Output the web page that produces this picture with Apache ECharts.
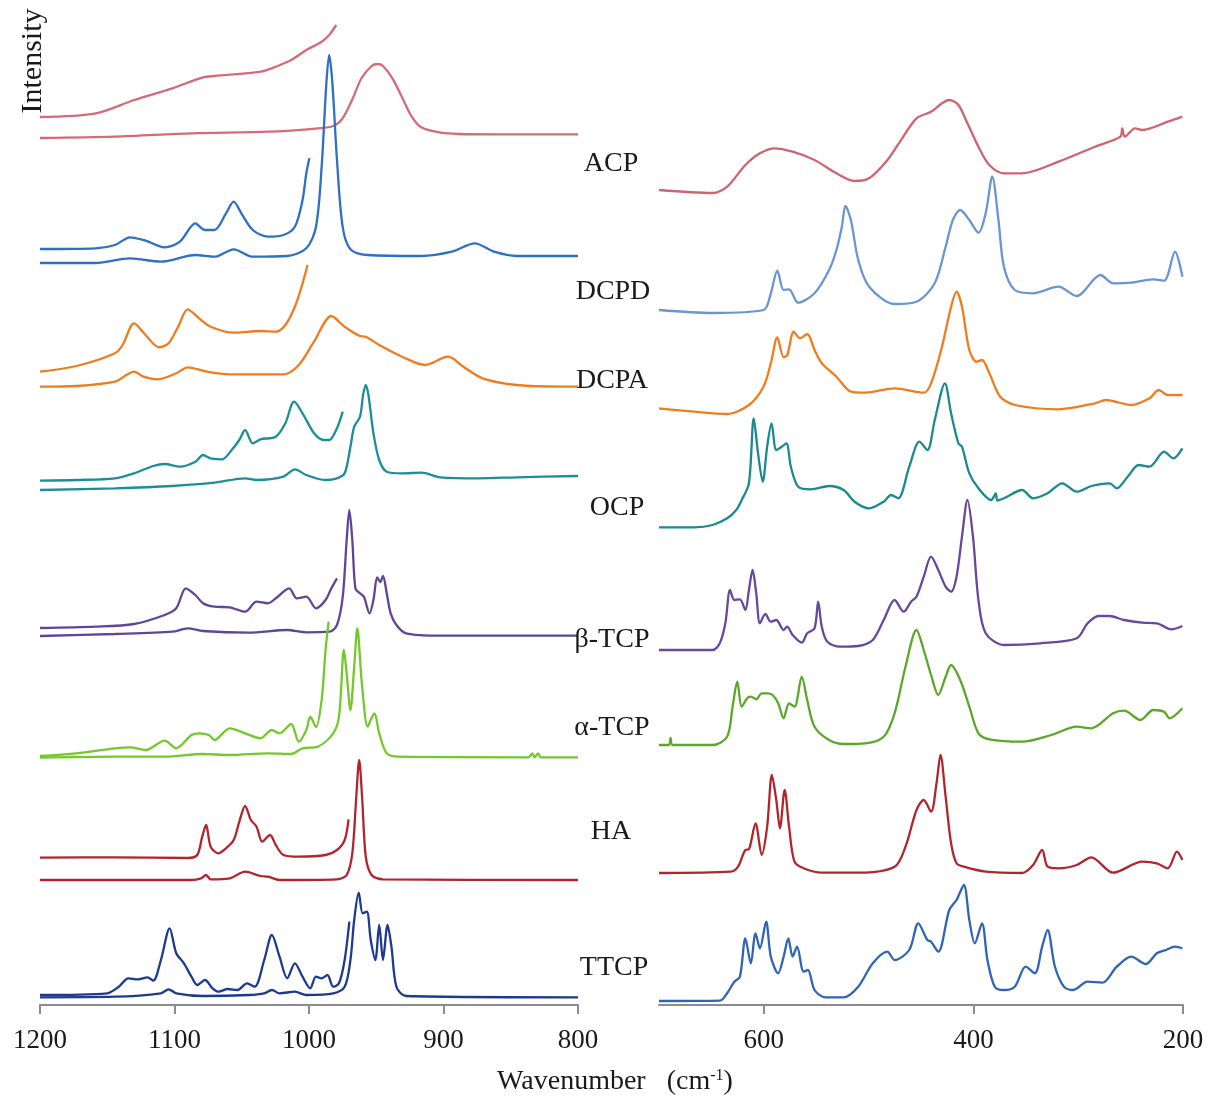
<!DOCTYPE html>
<html>
<head>
<meta charset="utf-8">
<script src="https://cdn.jsdelivr.net/npm/echarts@6/dist/echarts.min.js"></script>
<style>
html,body{margin:0;padding:0;background:#fff;}
#chart{width:1211px;height:1106px;}
</style>
</head>
<body>
<div id="chart"></div>
<script>
// ---------- tick labels / sample names ----------
const SAMPLE_NAMES = ['ACP','DCPD','DCPA','OCP','β-TCP','α-TCP','HA','TTCP'];
const LEFT_TICKS = [1200,1100,1000,900,800];
const RIGHT_TICKS = [600,400,200];

// ---------- spectra: [wavenumber (cm-1), relative intensity above own baseline] ----------
// Left panel (1200-800), main traces
const ACP_L_MAIN = [[1200,0],[1144,1.3],[1087,4.7],[1030,6.3],[993,9.7],[982,12],[975,19.7],[968,38],[961,59.7],[953.5,72],[949,74],[945,72],[938,59.7],[931,41.3],[923.6,21.3],[916.5,10.7],[902,5.3],[888,4],[860,3.7],[800,3.7]];
const DCPD_L_MAIN = [[1200,0],[1158.5,0],[1133,4.7],[1110,1.3],[1084.5,8],[1070.3,6.3],[1056,13.7],[1041.8,6.3],[1016.2,7],[1002,14.7],[994.8,36.3],[990.6,96.3],[987.1,179.7],[985,208],[982.6,179.7],[979.2,103],[975,36.3],[969.2,13.7],[956.4,8],[916.5,7],[893.8,11.3],[876.7,19.7],[862.4,11.3],[845.4,7],[800,7]];
const DCPA_L_MAIN = [[1200,0.3],[1172.8,1],[1144.3,5.3],[1135.7,12],[1130.1,15.3],[1122.9,10.3],[1113,7.7],[1098.7,13.7],[1090.2,19.7],[1076,15.3],[1058.9,12.7],[1019,12.7],[1007.6,22],[996.3,45.3],[983.4,71],[973.5,60.3],[962.1,51],[957.8,50.3],[947.8,42],[930.8,30.3],[913.7,22],[896.6,30.3],[885.2,20.3],[871,8.7],[845.4,2],[811.2,0.3],[800,0.3]];
const OCP_L_MAIN = [[1200,0],[1144.3,1.7],[1101.6,4],[1070.3,7.3],[1047.5,11.7],[1039,10],[1019,13.3],[1010.5,20.7],[1002,15],[987.7,10],[979.2,11.7],[973.5,16.7],[969.2,43.3],[966.4,63.3],[962.1,73.3],[959.8,95],[957.8,105],[955.8,95],[952.1,56.7],[947.8,30],[942.2,18.3],[930.8,16.7],[916.5,17.3],[902.3,12.7],[873.8,11.7],[845.4,12.7],[800,14]];
const BTCP_L_MAIN = [[1200,0],[1144.3,2],[1101.6,4.3],[1090.2,7.7],[1078.8,5],[1044.7,3.3],[1016.2,6],[1002,3.7],[984.9,4.3],[979.2,11],[974.9,39.3],[972,96],[970,126],[967.8,96],[965.5,47.7],[962.1,42.7],[959.2,39.3],[955,22.7],[952.1,36],[949.3,58.7],[947,54],[945,60],[942.2,42.7],[939.3,22.7],[935,11],[927.9,2.7],[902.3,0.3],[800,0.3]];
const ATCP_L_MAIN = [[1200,0.3],[1144.3,1.3],[1107.3,1.3],[1078.8,4],[1058.9,3],[1030.4,4.7],[1013.3,4],[1004.8,9.7],[993.4,11.3],[982,24.7],[977.7,41.3],[974,108],[972,84.7],[969.2,48],[966.4,91.3],[964.1,129.7],[960.7,74.7],[956.4,31.3],[953.5,40],[951.3,44.7],[947.8,24.7],[942.2,4.7],[933.6,1.3],[836.8,0.7],[834,4.7],[832.3,0.7],[829.7,4.7],[827.7,0.7],[800,0.7]];
const HA_L_MAIN = [[1200,0],[1087.4,0],[1080.2,1.7],[1076.5,5],[1073.1,0.7],[1058.9,1.7],[1047.5,8.3],[1036.1,4],[1030.4,3.3],[1021.9,0],[979.2,0.7],[972,5],[967.8,26.7],[965,80],[962.7,120],[960.4,80],[957.8,23.3],[953.5,5],[945,0.7],[800,0]];
const TTCP_L_MAIN = [[1200,0.2],[1144.3,0.8],[1110.1,4.2],[1104.4,8.2],[1098.7,4.2],[1078.8,1.5],[1044.7,2.5],[1033.3,4.2],[1027.6,7.5],[1021.9,4.2],[1010.5,5.8],[1002,2.5],[982,4.2],[973.5,10.8],[969.2,37.5],[966.4,77.5],[963,104.8],[960.1,84.2],[957,85.8],[954.1,57.5],[950.7,37.5],[947.8,72.5],[945,37.5],[941.6,72.5],[938.7,50.8],[935,10.8],[927.9,1.5],[800,0.2]];

// Left panel, magnified insets (end near the main band)
const ACP_L_ZOOM = [[1200,0],[1158.5,3.7],[1130,17],[1101.6,28.7],[1078.8,39.7],[1070.3,41],[1036,45.3],[1024.7,50.3],[1013.3,57],[1002,67],[990.6,75.3],[985,82],[979.7,92]];
const DCPD_L_ZOOM = [[1200,0],[1158.5,0.7],[1144.3,4],[1133,11.7],[1121.5,8.3],[1107.3,1.7],[1096,7.3],[1084.5,25.7],[1077.4,19],[1070.3,19],[1061.7,35.7],[1056,47.3],[1050.3,35.7],[1041.8,19],[1030.4,12.3],[1019,14],[1010.5,22.3],[1004.8,49],[1002,75.7],[999.7,90.7]];
const DCPA_L_ZOOM = [[1200,0.3],[1172.8,6],[1144.3,18.7],[1138.6,27],[1130.1,48.7],[1121.5,37],[1111.6,24.7],[1104.4,28.7],[1097.3,45.3],[1090.2,62.7],[1081.7,53.7],[1073.1,45.3],[1056,39.3],[1036.1,41],[1024.7,40.3],[1017.6,47],[1010.5,65.3],[1004.8,88.7],[1001.1,107]];
const OCP_L_ZOOM = [[1200,0.3],[1172.8,1],[1144.3,2.7],[1130.1,7.7],[1115.8,15],[1107.3,17],[1095.9,14.3],[1084.5,19.3],[1078.8,26],[1073.1,22.7],[1064.6,21.7],[1057.5,31],[1051.8,41],[1047.5,51],[1041.8,37.7],[1036.1,41.7],[1024.7,44.3],[1017.6,57.7],[1011.1,79.3],[1004.8,67.7],[996.2,47.7],[989.1,41],[984.9,41],[979.2,52.7],[974.9,69.3]];
const BTCP_L_ZOOM = [[1200,0],[1158.5,1.3],[1130.1,4],[1107.3,13],[1098.7,19.7],[1091.6,39.7],[1084.5,33],[1078.8,24.7],[1070.3,21.3],[1058.9,20.7],[1047.5,16.3],[1039,26.3],[1030.4,24.7],[1024.7,29.7],[1014.7,39.7],[1009.1,29.7],[1002,31.3],[994.8,19.7],[987.7,28],[983.4,39.7],[979.2,49.7]];
const ATCP_L_ZOOM = [[1200,0],[1172.8,2.7],[1144.3,7.7],[1132.9,8.7],[1121.5,6],[1107.3,15.3],[1098.7,7.7],[1087.4,21],[1081.7,22.7],[1074.5,21],[1070.3,16],[1058.9,27.7],[1047.5,22.7],[1036.1,17.7],[1027.6,26],[1021.9,22.7],[1013.3,32],[1007.6,14.3],[1002,26],[999.1,39.3],[994.8,29],[990.6,56],[987.7,106],[985.4,134.3]];
const HA_L_ZOOM = [[1200,0.3],[1144.3,0.7],[1090.2,0],[1083.1,3],[1079.4,21.3],[1076.5,33],[1073.1,11.3],[1067.4,4.7],[1061.7,9.7],[1056,18],[1051.8,36.3],[1047.5,52],[1043.2,38],[1039,31.3],[1034.7,16.3],[1029,23],[1024.7,13],[1019,3],[1007.6,1.3],[987.7,3],[979.2,8],[973.5,18],[970.6,38.7]];
const TTCP_L_ZOOM = [[1200,0],[1150,1.7],[1141.4,8.3],[1134.3,16.7],[1127.2,15.7],[1120.1,17.7],[1115.8,14.3],[1110.1,35],[1103.6,66.7],[1098.7,41.7],[1093,31.7],[1087.4,18.3],[1083.1,10],[1077.4,15],[1071.7,6.7],[1067.4,3.3],[1060.3,6],[1053.2,5],[1046.1,11.7],[1040.4,8.3],[1033.3,35],[1027.6,60],[1021.9,38.3],[1016.2,16.7],[1010.5,31.7],[1004.8,18.3],[999.1,6.7],[994.8,18.3],[990.6,16.7],[986.3,20],[982,8.3],[977.7,11.7],[973.5,35],[970,73.3]];

// Right panel (700-200)
const ACP_R = [[700,3],[649,0],[635,6.3],[617.6,28],[603.7,39.7],[589.8,44.7],[572.5,41.3],[551.6,33],[530.7,19.7],[513.4,12],[499.5,14.7],[482,33],[468,54.7],[454.3,74.7],[440.4,81.3],[430,89.7],[423,93],[414.3,88],[405.7,69.7],[395.2,46.3],[384.8,28],[370.9,19.7],[353.5,19.7],[318.8,31.3],[284,46.3],[259.7,56.3],[258,64.7],[255.5,56.3],[245.8,64.7],[238.9,63],[214.5,71.3],[200.6,76.3]];
const DCPD_R = [[700,3],[648.9,0],[600.2,3],[593.3,19.7],[587.1,42.3],[581.1,23],[575.9,23.7],[567.3,10.3],[551.6,19.7],[537.7,43],[530.7,63],[525.5,86.3],[522.1,107],[516.9,93],[509.9,53],[499.5,26.3],[475.2,9],[454.3,11.3],[436.9,29.7],[426.5,66.3],[419.6,93],[412.6,103],[403.9,93],[395.2,80.3],[388.3,99.7],[382,136.3],[376.1,93],[370.9,46.3],[360.5,23],[343.1,19.7],[318.8,26.3],[301.4,17],[278.8,38],[266.7,29.7],[249.3,30.3],[228.4,33.7],[218,32.3],[207.6,61.3],[200.6,36.3]];
const DCPA_R = [[700,5.7],[666.3,2.3],[635,0],[614.2,9],[600.3,27.3],[593.3,50.7],[587.1,76.7],[581.1,56.7],[577.6,59],[571.4,82.3],[565.5,75.7],[558.5,80],[551.6,64],[544.7,50.7],[530.7,37.3],[516.8,22.3],[503,21.3],[475.2,25.7],[447.4,21.3],[440.4,30.7],[430,67.3],[421.3,107.3],[416.1,122.3],[410.9,107.3],[403.9,64],[397,52.3],[391.8,54],[384.8,40.7],[374.4,17.3],[360.5,9],[318.8,4.7],[284,10.7],[273.6,14],[249.3,9],[231.9,15.7],[223.2,24],[214.5,19],[200.6,19]];
const OCP_R = [[700,0.2],[666.3,0.2],[648.9,2.5],[635,9.2],[626.3,17.5],[621.1,27.5],[614.2,44.2],[609.6,109.2],[605.5,74.2],[601,45.8],[596.8,80.8],[592.6,104.2],[588.1,77.5],[582.9,80.8],[578.4,84.2],[574.2,60.8],[567.2,40.8],[555.1,38.2],[537.7,41.5],[523.8,37.5],[513.4,25.8],[499.5,19.2],[485.6,25.8],[478.6,32.5],[471.7,29.2],[461.2,60.8],[451.5,85.8],[443.9,77.5],[436.9,107.5],[427.2,144.2],[421.3,114.2],[414.3,84.2],[410.9,80.8],[403.9,54.2],[395.2,39.2],[383.1,27.5],[378.6,34],[377.2,27],[370.9,29.2],[353.5,37.5],[343.1,29.2],[329.2,34.2],[315.3,44.2],[301.4,35.8],[287.5,41.5],[270.1,44.2],[263.2,39.2],[252.8,50.8],[242.3,62.5],[231.9,60.8],[218,75.8],[209.3,69.2],[200.6,79.2]];
const BTCP_R = [[700,0],[648.9,0],[642,6.7],[636.7,26.7],[632.2,60],[628.1,50],[622.8,50.7],[617.6,40],[614.2,60],[610.7,80],[607.2,56.7],[603.7,26.7],[598.5,36],[593.3,28.3],[588.1,30],[581.1,20],[577.7,23.3],[572.5,15],[563.8,7.3],[558.6,16.7],[551.6,21.7],[548.1,48.3],[544.7,23.3],[539.4,8.3],[527.3,3.3],[509.9,4],[496,10],[485.6,30],[475.2,50],[466.5,38.3],[459.5,48.3],[454.3,53.3],[447.4,73.3],[440.4,93.3],[433.5,80],[426.5,63.3],[421.3,58.3],[416.1,73.3],[410.9,113.3],[405.7,150],[400.4,113.3],[395.2,50],[388.3,16.7],[370.9,5],[336.2,6.7],[301.4,11.7],[291,26.7],[280.6,34],[270.1,34],[256.2,30],[238.9,27.3],[225,26.7],[211.1,20.7],[200.6,24]];
const ATCP_R = [[700,0],[690.6,0],[688.9,7],[687.1,0],[648.9,0],[635,8.3],[629.8,38.3],[625.3,63.3],[621.1,38.3],[615.9,46.7],[612.4,48.3],[607.2,45.7],[602,51.7],[596.8,51.7],[591.6,50],[586.3,41.7],[581.1,26.7],[575.9,41.7],[570.7,38.3],[563.8,68.3],[558.6,45],[551.6,18.3],[537.7,5],[523.8,1],[503,1.7],[485.6,8.3],[475.2,31.7],[464.8,78.3],[454.3,115],[447.4,95],[440.4,70],[433.5,50],[426.5,68.3],[421.3,80],[412.6,65],[403.9,38.3],[395.2,11.7],[384.8,5.7],[353.5,3.3],[325.7,10],[301.4,18.3],[287.5,16.7],[266.7,31.7],[256.2,34.3],[240.6,25],[228.4,35],[218,33.3],[212.8,26.7],[200.6,36.7]];
const HA_R = [[700,0],[631.5,1.3],[624.6,6.3],[617.6,23],[614.2,23.7],[607.9,49.7],[602,18],[596.8,46.3],[592.3,98],[588.1,73],[584.6,44.7],[580.1,83],[575.9,46.3],[570.7,11.3],[562,4.7],[544.7,0.3],[509.9,0.3],[475.2,6.3],[464.8,26.3],[454.3,63],[447.4,73],[440.4,61.3],[435.2,89.7],[431.4,118],[426.5,76.3],[421.3,29.7],[416.1,9.7],[409.1,6.3],[388.3,1.3],[353.5,0],[343.1,8],[334.4,23],[329.2,6.3],[318.8,4.7],[301.4,8],[287.5,15.7],[266.7,0.3],[238.9,11.3],[225,9.7],[214.5,4.7],[205.8,21.3],[200.6,13]];
const TTCP_R = [[700,0],[641.9,0.3],[635,7.7],[628.1,19.3],[622.8,24.3],[617.6,62.7],[612.4,37.7],[607.9,67.7],[603.7,52.7],[597.8,79.3],[593.3,44.3],[586.3,27.7],[581.1,44.3],[576.6,62.7],[572.5,44.3],[568.3,54.3],[562,29.3],[557.9,31],[551.6,11],[541.2,3.7],[523.8,3.7],[509.9,14.3],[496,37.7],[482.1,49.3],[475.2,41],[461.2,51],[452.6,77.7],[443.9,61],[440.4,59.3],[433.5,49.3],[423,91],[416.1,101],[409.1,116],[403.9,81],[398.7,57.7],[391.8,77.7],[386.6,41],[379.6,14.3],[370.9,11],[360.5,14.3],[350.1,34.3],[341.4,27.7],[334.4,54.3],[329.2,71],[322.2,34.3],[313.6,14.3],[304.9,11],[291,19.3],[277.1,18.3],[263.2,34.3],[249.3,44.3],[235.4,37],[225,47.7],[216.3,51],[207.6,54.3],[200.6,52.7]];

// vertical stacking offsets of each trace (same order as SAMPLE_NAMES)
const OFFSET_L_MAIN = [867,742,618,515,369,247,125,7.5];
const OFFSET_L_ZOOM = [888,756,633,524,377,249,147,10];
const OFFSET_R = [812,692,591,477.5,355,260,132,4];

// ---------- styles ----------
const COLOR_L_MAIN = ['#d66b78','#2f6fc4','#f07c20','#1c8e97','#5f4597','#74c82c','#b0262f','#1e3a8e'];
const COLOR_L_ZOOM = COLOR_L_MAIN;
const COLOR_R = ['#cf6470','#6b94d4','#f07c20','#1a8a90','#67489a','#5ea62a','#b0262f','#2f64b6'];
const SERIF = "'Liberation Serif','Times New Roman',serif";

const L_MAIN = [ACP_L_MAIN,DCPD_L_MAIN,DCPA_L_MAIN,OCP_L_MAIN,BTCP_L_MAIN,ATCP_L_MAIN,HA_L_MAIN,TTCP_L_MAIN];
const L_ZOOM = [ACP_L_ZOOM,DCPD_L_ZOOM,DCPA_L_ZOOM,OCP_L_ZOOM,BTCP_L_ZOOM,ATCP_L_ZOOM,HA_L_ZOOM,TTCP_L_ZOOM];
const R_ALL = [ACP_R,DCPD_R,DCPA_R,OCP_R,BTCP_R,ATCP_R,HA_R,TTCP_R];

function shift(pts, off){ return pts.map(p => [p[0], p[1] + off]); }
function mkSeries(name, pts, off, color, axis){
  return {
    name: name, type: 'line', xAxisIndex: axis, yAxisIndex: axis,
    data: shift(pts, off), showSymbol: false, symbol: 'none',
    smooth: 0.3, silent: true, clip: true,
    lineStyle: { color: color, width: 2.3 }
  };
}

const series = [];
SAMPLE_NAMES.forEach((n, i) => {
  series.push(mkSeries(n + ' 1200-800', L_MAIN[i], OFFSET_L_MAIN[i], COLOR_L_MAIN[i], 0));
  series.push(mkSeries(n + ' 1200-800 (zoom)', L_ZOOM[i], OFFSET_L_ZOOM[i], COLOR_L_ZOOM[i], 0));
  series.push(mkSeries(n + ' 700-200', R_ALL[i], OFFSET_R[i], COLOR_R[i], 1));
});

// label positions (pixel centres)
const LABEL_POS = [[611,164],[613,292],[612,381],[617,508],[612,640],[612,728],[611,832],[614,968]];

const axisCommon = {
  type: 'value', inverse: true,
  axisLine: { show: true, lineStyle: { color: '#8c8c8c', width: 2 } },
  axisTick: { show: true, length: 9, lineStyle: { color: '#8c8c8c', width: 2 } },
  axisLabel: { fontFamily: SERIF, fontSize: 27, color: '#1a1a1a', margin: 22 },
  splitLine: { show: false }
};

const option = {
  animation: false,
  backgroundColor: '#ffffff',
  grid: [
    { left: 40, top: 0, width: 538, height: 1005 },
    { left: 659, top: 0, width: 524, height: 1005 }
  ],
  xAxis: [
    Object.assign({}, axisCommon, { gridIndex: 0, min: 800, max: 1200, interval: 100,
      axisTick: Object.assign({}, axisCommon.axisTick, { customValues: LEFT_TICKS }),
      axisLabel: Object.assign({}, axisCommon.axisLabel, { customValues: LEFT_TICKS,
        formatter: v => String(v) }) }),
    Object.assign({}, axisCommon, { gridIndex: 1, min: 200, max: 700, interval: 200,
      axisTick: Object.assign({}, axisCommon.axisTick, { customValues: RIGHT_TICKS }),
      axisLabel: Object.assign({}, axisCommon.axisLabel, { customValues: RIGHT_TICKS,
        formatter: v => (RIGHT_TICKS.indexOf(v) >= 0 ? String(v) : '') }) })
  ],
  yAxis: [
    { gridIndex: 0, type: 'value', min: 0, max: 1005, show: false },
    { gridIndex: 1, type: 'value', min: 0, max: 1005, show: false }
  ],
  series: series,
  graphic: SAMPLE_NAMES.map((n, i) => ({
    type: 'text', x: LABEL_POS[i][0], y: LABEL_POS[i][1], z: 100,
    style: { text: n, fill: '#1a1a1a', font: '28px ' + SERIF, align: 'center', verticalAlign: 'middle' }
  })).concat([
    { type: 'text', x: 33, y: 61, rotation: Math.PI / 2, z: 100,
      style: { text: 'Intensity', fill: '#1a1a1a', font: '30px ' + SERIF, align: 'center', verticalAlign: 'middle' } },
    { type: 'text', x: 615, y: 1082, z: 100,
      style: { text: '{a|Wavenumber   (cm}{s|-1}{a|)}', align: 'center', verticalAlign: 'middle',
        rich: {
          a: { fontFamily: SERIF, fontSize: 28, fill: '#1a1a1a' },
          s: { fontFamily: SERIF, fontSize: 16, fill: '#1a1a1a', verticalAlign: 'top', padding: [0, 0, 12, 0] }
        } } }
  ])
};

const chart = echarts.init(document.getElementById('chart'), null, { renderer: 'canvas' });
chart.setOption(option);
</script>
</body>
</html>
